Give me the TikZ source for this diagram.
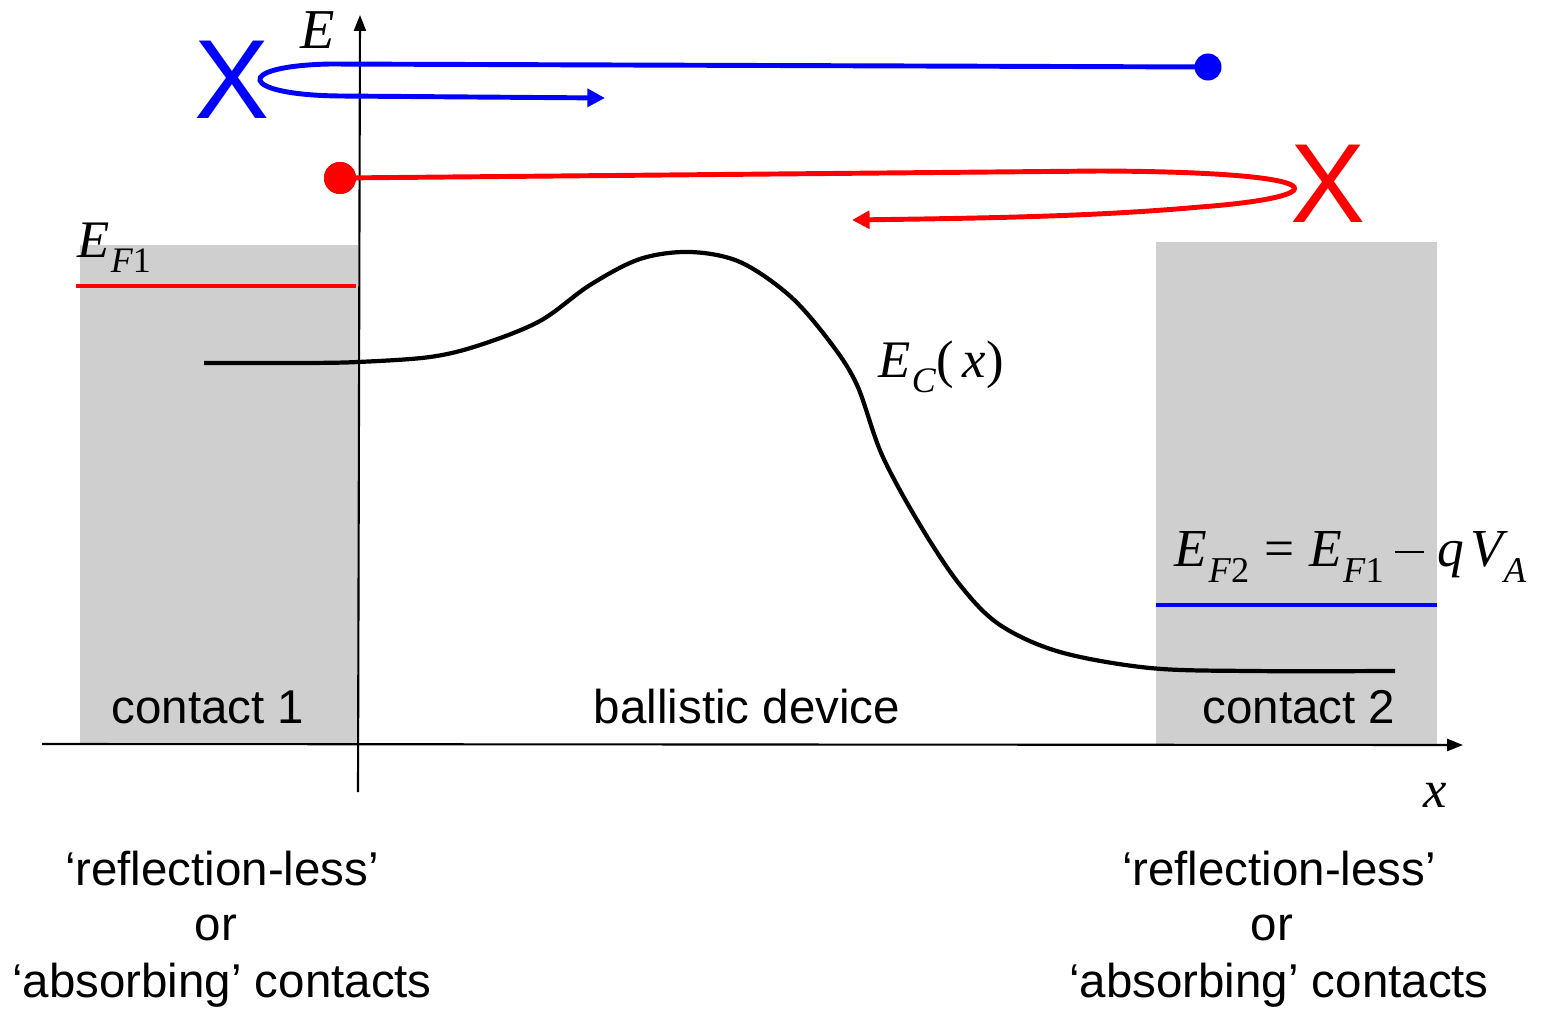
\documentclass[tikz,border=0pt]{standalone}
\usepackage{fontspec}
\setmainfont{Liberation Sans}
\newfontfamily\tms{Liberation Serif}
\usetikzlibrary{arrows.meta}
\newcommand\msub[1]{\raisebox{-0.3em}{\scalebox{0.68}{#1}}}
\newcommand\mminus{\rule[0.24em]{0.55em}{0.045em}}
\definecolor{cgray}{RGB}{207,207,207}
\tikzset{
  lbl/.style={font=\fontsize{13.5}{16}\selectfont, inner sep=0pt},
  mth/.style={font=\fontsize{15}{18}\selectfont\tms, inner sep=0pt},
  bigx/.style={font=\fontsize{32}{36}\selectfont, inner sep=0pt},
  axis/.style={line width=0.6pt, -{Triangle[length=4.5pt,width=3.4pt]}},
  traj/.style={line width=1.4pt},
  tip/.style={-{Triangle[length=5pt,width=5pt]}},
  level/.style={line width=1.3pt},
}
\begin{document}
\begin{tikzpicture}[x=0.01cm,y=-0.01cm]
\useasboundingbox (0,0) rectangle (1542,1009);
% contacts
\fill[cgray] (80,245) rectangle (358,744);
\fill[cgray] (1156,242) rectangle (1437,744);
% axes
\coordinate (xs) at (42,744);
\coordinate (xe) at (1463,745);
\coordinate (es) at (358,792);
\coordinate (ee) at (360,15);
\draw[axis] (xs) -- (xe);
\draw[axis] (es) -- (ee);
\node[mth, font=\fontsize{16}{18}\selectfont\tms\itshape] (El) at (318,30) {E};
\node[mth, font=\fontsize{15}{18}\selectfont\tms\itshape] (xl) at (1435,795) {x};
% Fermi levels
\coordinate (f1a) at (76,286); \coordinate (f1b) at (356,286);
\draw[level, red] (f1a) -- (f1b);
\coordinate (f2a) at (1156,605); \coordinate (f2b) at (1437,605);
\draw[level, blue] (f2a) -- (f2b);
\node[mth, anchor=base west] (EF1) at (77,257) {\itshape E\kern0.02em\msub{F\upshape 1}};
\node[mth, font=\fontsize{15.2}{18}\selectfont\tms, anchor=base east] (EF2) at (1527,566)
  {\textit{E}\kern0.02em\msub{\textit{F}2}\kern0.28em=\kern0.28em\textit{E}\kern0.02em\msub{\textit{F}1}\kern0.2em\mminus\kern0.25em\textit{q}\kern0.12em\textit{V}\kern-0.08em\msub{\textit{A}}};
% conduction band
\draw[line width=1.2pt] plot[smooth, tension=0.55] coordinates {
 (204,363) (300,363) (358,362) (430,357) (480,345) (540,321) (590,285) (640,259) (690,252)
 (740,262) (790,296) (830,342) (857,385) (882,455) (920,525) (960,585) (1000,625)
 (1060,652) (1150,668) (1250,671) (1395,671)};
\node[mth, anchor=base west] (Ec) at (878,377) {\textit{E}\kern0.02em\msub{\textit{C}}(\,\textit{x})};
% blue trajectory
\node[circle, fill=blue, inner sep=0pt, minimum width=0.27cm] (bd) at (1208,67) {};
\coordinate (bt) at (605,98);
\draw[traj, blue, tip] (bd.center) -- (330,64) .. controls (232,66) and (238,95) .. (340,96) -- (bt);
\node[bigx, text=blue] (bx) at (232,80) {X};
% red trajectory
\node[circle, fill=red, inner sep=0pt, minimum width=0.32cm] (rd) at (340,178) {};
\coordinate (rt) at (852,220);
\draw[traj, red, tip] (rd.center) -- (1100,171) .. controls (1345,172) and (1335,197) .. (1200,207) .. controls (1100,216) and (1000,218) .. (rt);
\node[circle, fill=red, inner sep=0pt, minimum width=0.32cm] (rd2) at (340,178) {};
\node[bigx, text=red] (rx) at (1328,184) {X};
% labels
\node[lbl] (c1) at (208,707) {contact 1};
\node[lbl] (bdv) at (747,707) {ballistic device};
\node[lbl] (c2) at (1299,707) {contact 2};
\node[lbl] (r1) at (222,869) {‘reflection-less’};
\node[lbl] (o1) at (216,928) {or};
\node[lbl] (a1) at (222,985) {‘absorbing’ contacts};
\node[lbl] (r2) at (1279,869) {‘reflection-less’};
\node[lbl] (o2) at (1272,928) {or};
\node[lbl] (a2) at (1279,985) {‘absorbing’ contacts};
\end{tikzpicture}
\end{document}
